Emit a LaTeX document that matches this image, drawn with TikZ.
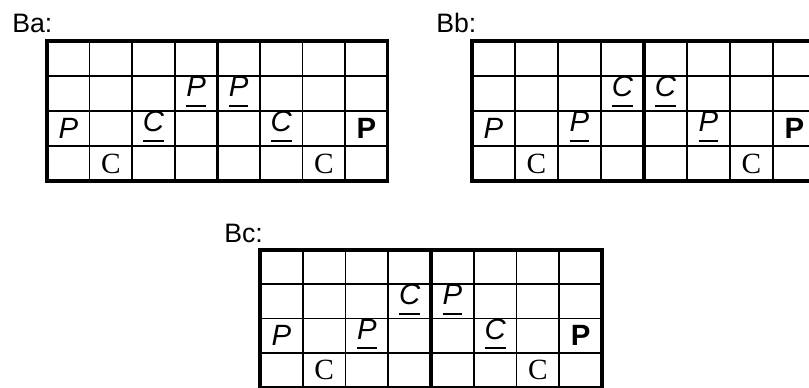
\documentclass[tikz,border=0pt]{standalone}
\usepackage{fontspec}
\setmainfont{Liberation Sans}
\newfontfamily\romanC{Liberation Serif}
\usetikzlibrary{positioning}

\newsavebox{\piecebox}
\newcommand{\ulpiece}[1]{\sbox{\piecebox}{#1}\rlap{\rule[-7.5pt]{\wd\piecebox}{1.5pt}}\usebox{\piecebox}}
\newcommand{\boardgrid}{%
  \foreach \i in {1,...,7} \draw[cellline] (\i,0) -- (\i,4);
  \foreach \j in {1,2,3} \draw[cellline] (0,\j) -- (8,\j);
  \draw[frame] (4,0) -- (4,4);
  \draw[frame] (0,0) rectangle (8,4);
}

\tikzset{
  cellline/.style={line width=1.2pt},
  frame/.style={line width=2.3pt},
  boardname/.style={anchor=base west, inner sep=0pt, font=\fontsize{20}{20}\selectfont},
  piece/.style={inner sep=0pt, font=\fontsize{22}{22}\selectfont},
}

\begin{document}
\begin{tikzpicture}[x=0.75pt, y=-0.75pt]
        \useasboundingbox (0,0) rectangle (809,388);
        \clip (0,0) rectangle (809,388);
        \node[boardname] (ba) at (12,33) {Ba:};
        \node[boardname] (bb) at (436,33) {Bb:};
        \node[boardname] (bc) at (224,242) {Bc:};
        % board Ba
        \begin{scope}[shift={(47,41)}, x=31.95pt, y=-26.25pt]
            \boardgrid
            \node[piece] (ba-p24) at (3.5,1.45) {\ulpiece{\itshape P}};
            \node[piece] (ba-p25) at (4.5,1.45) {\ulpiece{\itshape P}};
            \node[piece] (ba-p31) at (0.5,2.5) {\itshape P};
            \node[piece] (ba-c33) at (2.5,2.45) {\ulpiece{\itshape C}};
            \node[piece] (ba-c36) at (5.5,2.45) {\ulpiece{\itshape C}};
            \node[piece] (ba-p38) at (7.5,2.5) {\bfseries P};
            \node[piece] (ba-c42) at (1.5,3.5) {\romanC C};
            \node[piece] (ba-c47) at (6.5,3.5) {\romanC C};
        \end{scope}
        % board Bb
        \begin{scope}[shift={(472,41)}, x=32.25pt, y=-26.25pt]
            \boardgrid
            \node[piece] (bb-c24) at (3.5,1.45) {\ulpiece{\itshape C}};
            \node[piece] (bb-c25) at (4.5,1.45) {\ulpiece{\itshape C}};
            \node[piece] (bb-p31) at (0.5,2.5) {\itshape P};
            \node[piece] (bb-p33) at (2.5,2.45) {\ulpiece{\itshape P}};
            \node[piece] (bb-p36) at (5.5,2.45) {\ulpiece{\itshape P}};
            \node[piece] (bb-p38) at (7.5,2.5) {\bfseries P};
            \node[piece] (bb-c42) at (1.5,3.5) {\romanC C};
            \node[piece] (bb-c47) at (6.5,3.5) {\romanC C};
        \end{scope}
        % board Bc
        \begin{scope}[shift={(260,250)}, x=32.06pt, y=-25.7pt]
            \boardgrid
            \node[piece] (bc-c24) at (3.5,1.45) {\ulpiece{\itshape C}};
            \node[piece] (bc-p25) at (4.5,1.45) {\ulpiece{\itshape P}};
            \node[piece] (bc-p31) at (0.5,2.5) {\itshape P};
            \node[piece] (bc-p33) at (2.5,2.45) {\ulpiece{\itshape P}};
            \node[piece] (bc-c36) at (5.5,2.45) {\ulpiece{\itshape C}};
            \node[piece] (bc-p38) at (7.5,2.5) {\bfseries P};
            \node[piece] (bc-c42) at (1.5,3.5) {\romanC C};
            \node[piece] (bc-c47) at (6.5,3.5) {\romanC C};
        \end{scope}
    \end{tikzpicture}
\end{document}
